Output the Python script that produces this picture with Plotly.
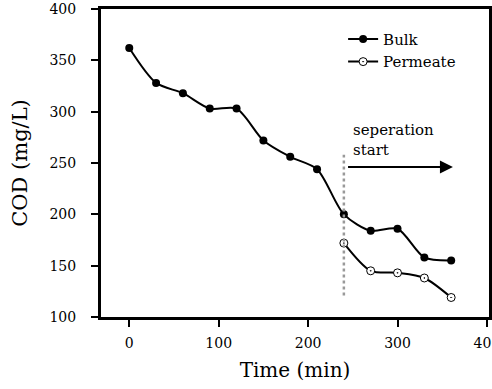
import plotly.graph_objects as go

time_bulk = [0, 30, 60, 90, 120, 150, 180, 210, 240, 270, 300, 330, 360]
cod_bulk = [362, 328, 318, 303, 303, 272, 256, 244, 200, 184, 186, 158, 155]
time_perm = [240, 270, 300, 330, 360]
cod_perm = [172, 145, 143, 138, 119]

sep_time = 240
sep_line_y = [121, 258]
arrow_start = 243
arrow_end = 362
arrow_y = 246

FONT = "DejaVu Serif"

fig = go.Figure()
fig.add_trace(go.Scatter(
    x=time_bulk, y=cod_bulk, mode="lines+markers", name="Bulk",
    line=dict(color="black", width=2, shape="spline", smoothing=0.8),
    marker=dict(symbol="circle", size=8, color="black"),
))
fig.add_trace(go.Scatter(
    x=time_perm, y=cod_perm, mode="lines+markers", name="Permeate",
    line=dict(color="black", width=2, shape="spline", smoothing=0.8),
    marker=dict(symbol="circle-dot", size=8, color="white", line=dict(color="black", width=1)),
))
fig.add_trace(go.Scatter(
    x=[sep_time, sep_time], y=sep_line_y, mode="lines", showlegend=False,
    line=dict(color="#999999", width=2.5, dash="dot"), hoverinfo="skip",
))
fig.add_annotation(
    x=arrow_end, y=arrow_y, ax=arrow_start, ay=arrow_y,
    xref="x", yref="y", axref="x", ayref="y",
    showarrow=True, arrowhead=2, arrowsize=1.3, arrowwidth=2, arrowcolor="black", text="",
)
fig.add_annotation(
    x=248, y=272, xref="x", yref="y", text="seperation<br>start", showarrow=False,
    xanchor="left", yanchor="middle", align="left",
    font=dict(family=FONT, size=15, color="black"),
)

axis_common = dict(
    showgrid=False, zeroline=False, showline=True, linecolor="black", linewidth=3,
    mirror=True, ticks="outside", ticklen=7, tickwidth=2, tickcolor="black",
    tickfont=dict(family=FONT, size=14, color="black"), automargin=False,
    ticklabeloverflow="allow",
)
fig.update_xaxes(range=[-31.6, 402.3], tickvals=[0, 100, 200, 300, 400],
                 ticklabelstandoff=4,
                 title=dict(text="Time (min)", font=dict(family=FONT, size=20, color="black"), standoff=14),
                 **axis_common)
fig.update_yaxes(range=[100, 400], tickvals=[100, 150, 200, 250, 300, 350, 400],
                 ticklabelstandoff=12,
                 title=dict(text="COD (mg/L)", font=dict(family=FONT, size=21, color="black"), standoff=17),
                 **axis_common)

fig.update_layout(
    width=492, height=389,
    margin=dict(l=101, r=3, t=9, b=72),
    plot_bgcolor="white", paper_bgcolor="white",
    font=dict(family=FONT, color="black"),
    legend=dict(x=0.624, y=0.955, xanchor="left", yanchor="top", bgcolor="rgba(0,0,0,0)",
                font=dict(family=FONT, size=15, color="black"), tracegroupgap=0),
    showlegend=True,
)

fig.write_html("out.html", config={"displayModeBar": False},
               post_script="document.body.style.margin='0px';")
